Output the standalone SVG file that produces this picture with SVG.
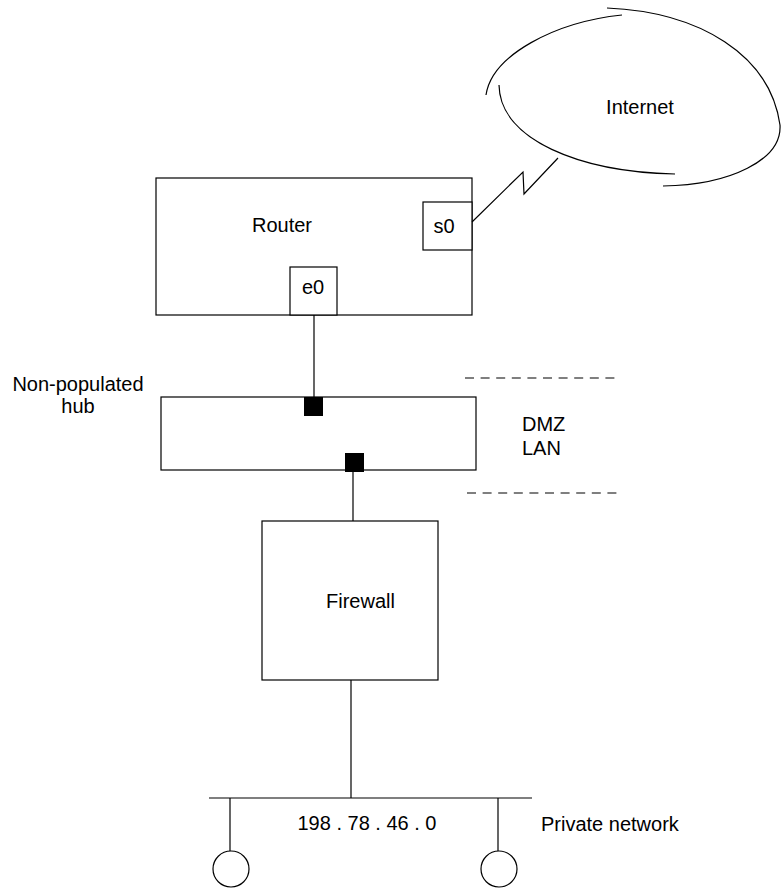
<svg xmlns="http://www.w3.org/2000/svg" width="781" height="890" viewBox="0 0 781 890">
<style>
.s{fill:none;stroke:#000;stroke-width:1.2}
.b{fill:#fff;stroke:#000;stroke-width:1.2}
.t{font-family:"Liberation Sans",Arial,sans-serif;font-size:20px;fill:#000}
.d{fill:none;stroke:#000;stroke-width:1.2;stroke-dasharray:9 6.6}
</style>
<rect width="781" height="890" fill="#fff"/>
<g id="internet">
<path class="s" d="M607 8 C700 12 770 55 780 125 C782 160 730 185 663 186"/>
<path class="s" d="M622 15 C555 22 492 55 486 95"/>
<path class="s" d="M499 85 C500 140 580 172 675 174"/>
<text class="t" x="640" y="114" text-anchor="middle">Internet</text>
</g>
<g id="router">
<rect class="b" x="156" y="178" width="316" height="137"/>
<text class="t" x="282" y="232" text-anchor="middle">Router</text>
</g>
<g id="s0">
<rect class="b" x="423" y="202" width="49" height="48"/>
<text class="t" x="444" y="233" text-anchor="middle">s0</text>
</g>
<g id="e0">
<rect class="b" x="290" y="267" width="47" height="48"/>
<text class="t" x="313" y="294" text-anchor="middle">e0</text>
</g>
<g id="hub">
<rect class="b" x="161" y="397" width="315" height="73"/>
<rect x="304" y="397" width="19" height="19" fill="#000"/>
<rect x="345" y="453" width="19" height="19" fill="#000"/>
<text class="t" x="78" y="391" text-anchor="middle">Non-populated</text>
<text class="t" x="78" y="413" text-anchor="middle">hub</text>
</g>
<g id="dmz">
<line class="d" x1="465" y1="378" x2="619" y2="378"/>
<line class="d" x1="467" y1="493" x2="622" y2="493"/>
<text class="t" x="522" y="431">DMZ</text>
<text class="t" x="522" y="455">LAN</text>
</g>
<g id="firewall">
<rect class="b" x="262" y="521" width="176" height="159"/>
<text class="t" x="326" y="608">Firewall</text>
</g>
<g id="private-network">
<line class="s" x1="209" y1="798" x2="532" y2="798"/>
<line class="s" x1="230" y1="798" x2="230" y2="851"/>
<line class="s" x1="498" y1="798" x2="498" y2="851"/>
<circle class="s" cx="231" cy="869" r="18"/>
<circle class="s" cx="499" cy="869" r="18"/>
<text class="t" x="367" y="830" text-anchor="middle">198 . 78 . 46 . 0</text>
<text class="t" x="541" y="831">Private network</text>
</g>
<g id="connectors">
<polyline class="s" points="472,222 523,172 524,194 558,158"/>
<line class="s" x1="314" y1="315" x2="314" y2="397"/>
<line class="s" x1="353" y1="472" x2="353" y2="521"/>
<line class="s" x1="351" y1="680" x2="351" y2="798"/>
</g>
</svg>
